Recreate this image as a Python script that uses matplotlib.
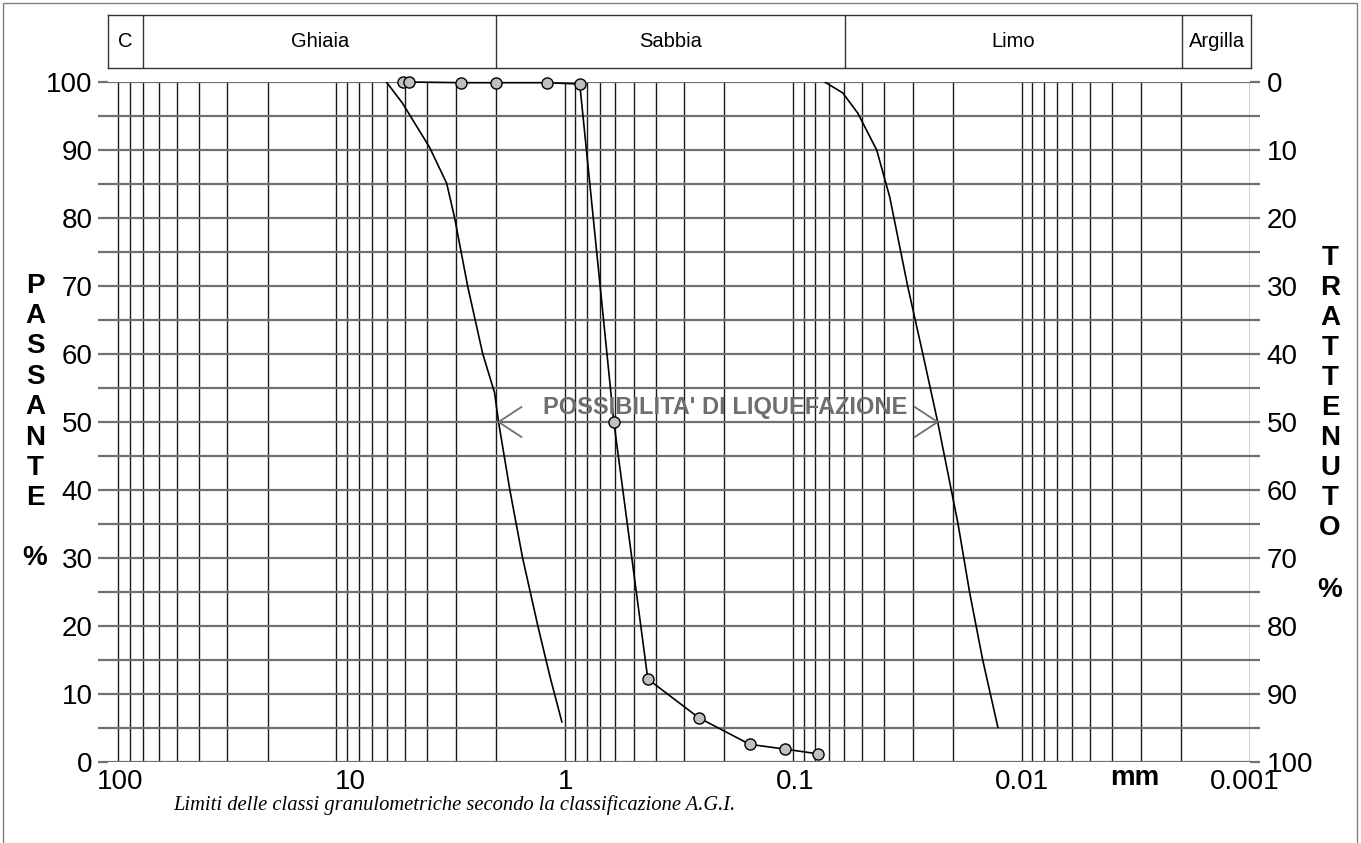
import numpy as np
import matplotlib.pyplot as plt
import matplotlib.transforms as mtransforms
from matplotlib.patches import Rectangle

plt.rcParams['font.family'] = ['Liberation Sans', 'DejaVu Sans']

# sample grain size curve (mm, % passing)
sample_d = [5.1, 4.8, 2.85, 2.0, 1.2, 0.86, 0.61, 0.433, 0.259, 0.155, 0.109, 0.078]
sample_p = [100, 100, 99.9, 99.9, 99.9, 99.7, 50.0, 12.2, 6.5, 2.6, 1.9, 1.2]

# liquefaction envelope, coarse side
left_d = [6.04, 5.14, 3.91, 3.29, 3.04, 2.66, 2.29, 2.03, 1.95, 1.74, 1.53, 1.31, 1.16, 1.03]
left_p = [100, 96.9, 90.4, 85.1, 80.1, 69.9, 60.1, 54.3, 50.0, 40.0, 30.0, 19.9, 12.5, 5.9]

# liquefaction envelope, fine side
right_d = [0.0728, 0.0607, 0.0521, 0.0431, 0.0378, 0.0315, 0.0271, 0.0233, 0.0190, 0.0169, 0.0148, 0.0127]
right_p = [100, 98.4, 95.4, 90.0, 83.1, 69.9, 60.1, 50.0, 35.1, 25.0, 15.0, 5.1]

# AGI classes (mm limits)
class_names = ['C', 'Ghiaia', 'Sabbia', 'Limo', 'Argilla']
class_limits = [100, 70, 2, 0.06, 0.002, 0.001]

x_ticks = [100, 10, 1, 0.1, 0.01, 0.001]
x_labels = ['100', '10', '1', '0.1', '0.01', '0.001']
x_label_shift = [12, 14, 1, 2, 0, -5]   # px, labels are not centred on the lines in the original

fig = plt.figure(figsize=(13.61, 8.43), dpi=100)
ax = fig.add_axes([108/1361, 81/843, 1142/1361, 680/843])

ax.set_xscale('log')
ax.set_xlim(100, 0.001)
ax.set_ylim(0, 100)

# vertical log grid
for dec in [10, 1, 0.1, 0.01, 0.001]:
    for k in range(1, 10):
        v = dec * k
        if v <= 100:
            ax.axvline(v, color='#1a1a1a', lw=1.0, zorder=1)
# horizontal grid every 5 %
for yv in range(0, 101, 5):
    ax.axhline(yv, color='#707070', lw=1.6, zorder=1)

for s in ax.spines.values():
    s.set_visible(False)

ax.set_xticks(x_ticks)
ax.set_xticklabels(x_labels)
ax.xaxis.set_minor_locator(plt.NullLocator())
ax.tick_params(axis='x', length=0, pad=5, labelsize=20)
for lab, dx in zip(ax.get_xticklabels(), x_label_shift):
    lab.set_transform(lab.get_transform() + mtransforms.ScaledTranslation(dx / 100, 0, fig.dpi_scale_trans))

ax.set_yticks(range(0, 101, 10))
ax.set_yticks(range(5, 100, 10), minor=True)
ax.tick_params(axis='y', which='both', length=7, width=1.6, color='#707070',
               labelsize=20, pad=4, right=True)

axr = ax.twinx()
axr.set_ylim(0, 100)
axr.set_yticks(range(0, 101, 10))
axr.set_yticklabels([str(100 - v) for v in range(0, 101, 10)])
axr.set_yticks(range(5, 100, 10), minor=True)
axr.tick_params(axis='y', which='both', length=7, width=1.6, color='#707070',
                labelsize=20, pad=5)
for s in axr.spines.values():
    s.set_visible(False)

# curves
ax.plot(left_d, left_p, color='black', lw=1.2, zorder=3)
ax.plot(right_d, right_p, color='black', lw=1.2, zorder=3)
ax.plot(sample_d, sample_p, color='black', lw=1.2, marker='o', ms=8,
        mfc='#c0c0c0', mec='black', mew=1.0, zorder=4, clip_on=False)

# liquefaction label with arrow heads at the 50% crossing
tip_l = np.interp(50, left_p[::-1], left_d[::-1])
tip_r = np.interp(50, right_p[::-1], right_d[::-1])
arm = 10 ** 0.1
ax.plot([tip_l / arm, tip_l, tip_l / arm], [52.2, 50, 47.8], color='#707070', lw=1.3, zorder=3)
ax.plot([tip_r * arm, tip_r, tip_r * arm], [52.2, 50, 47.8], color='#707070', lw=1.3, zorder=3)
ax.text(np.sqrt(tip_l * tip_r) * 0.93, 52.2, "POSSIBILITA' DI LIQUEFAZIONE", ha='center', va='center',
        fontsize=17, fontweight='bold', color='#6e6e6e', zorder=5)

# class band on top
axt = fig.add_axes([108/1361, 775/843, 1143/1361, 53/843])
axt.set_xscale('log')
axt.set_xlim(100, 0.001)
axt.set_ylim(0, 1)
axt.set_xticks([])
axt.set_yticks([])
axt.xaxis.set_minor_locator(plt.NullLocator())
for s in axt.spines.values():
    s.set_color('#333333')
    s.set_linewidth(1.0)
for i, name in enumerate(class_names):
    a, b = class_limits[i], class_limits[i + 1]
    if i > 0:
        axt.axvline(a, color='#333333', lw=1.0)
    axt.text(np.sqrt(a * b), 0.5, name, ha='center', va='center', fontsize=14.5)

# axis titles
fig.text(35/1361, 1 - 392/843, '\n'.join('PASSANTE'), ha='center', va='center',
         fontsize=20, fontweight='bold', linespacing=1.22)
fig.text(35/1361, 1 - 558/843, '%', ha='center', va='center', fontsize=20, fontweight='bold')
fig.text(1330/1361, 1 - 393/843, '\n'.join('TRATTENUTO'), ha='center', va='center',
         fontsize=20, fontweight='bold', linespacing=1.2)
fig.text(1330/1361, 1 - 590/843, '%', ha='center', va='center', fontsize=20, fontweight='bold')
fig.text(1135/1361, 1 - 778/843, 'mm', ha='center', va='center', fontsize=20, fontweight='bold')
fig.text(454/1361, 1 - 805/843, 'Limiti delle classi granulometriche secondo la classificazione A.G.I.',
         ha='center', va='center', fontsize=14.8, style='italic', family='Liberation Serif')

# outer frame
fig.patches.append(Rectangle((3/1361, -0.01), 1354/1361, 1.0 - 3/843 + 0.01, transform=fig.transFigure,
                             fill=False, edgecolor='#808080', lw=1.0))

fig.savefig('out.png', dpi=100)
